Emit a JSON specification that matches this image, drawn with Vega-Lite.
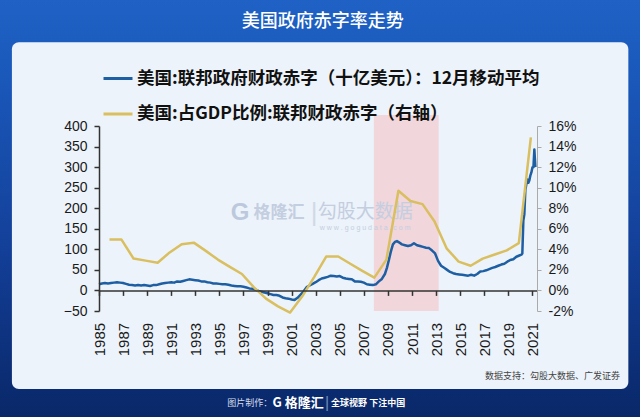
{
  "$schema": "https://vega.github.io/schema/vega-lite/v6.json",
  "width": 438,
  "height": 185,
  "autosize": {"type": "none"},
  "padding": {"left": 99, "top": 126, "right": 103, "bottom": 106},
  "background": "#0F3D8F",
  "config": {"view": {"stroke": null}, "font": "Liberation Sans", "axis": {"labelOverlap": false, "zindex": 1, "grid": false, "title": null}},
  "datasets": {
    "one": [{}],
    "blue": [
      {"d": "1985-01-01", "v": 15}, {"d": "1985-04-01", "v": 17}, {"d": "1985-07-01", "v": 18}, {"d": "1985-10-01", "v": 17},
      {"d": "1986-01-01", "v": 18}, {"d": "1986-04-01", "v": 19}, {"d": "1986-07-01", "v": 20}, {"d": "1986-10-01", "v": 19},
      {"d": "1987-01-01", "v": 18}, {"d": "1987-04-01", "v": 16}, {"d": "1987-07-01", "v": 14}, {"d": "1987-10-01", "v": 13},
      {"d": "1988-01-01", "v": 12}, {"d": "1988-04-01", "v": 13}, {"d": "1988-07-01", "v": 12}, {"d": "1988-10-01", "v": 13},
      {"d": "1989-01-01", "v": 12}, {"d": "1989-04-01", "v": 11}, {"d": "1989-07-01", "v": 13}, {"d": "1989-10-01", "v": 13},
      {"d": "1990-01-01", "v": 15}, {"d": "1990-04-01", "v": 17}, {"d": "1990-07-01", "v": 18}, {"d": "1990-10-01", "v": 19},
      {"d": "1991-01-01", "v": 20}, {"d": "1991-04-01", "v": 19}, {"d": "1991-07-01", "v": 22}, {"d": "1991-10-01", "v": 21},
      {"d": "1992-01-01", "v": 23}, {"d": "1992-04-01", "v": 25}, {"d": "1992-07-01", "v": 27}, {"d": "1992-10-01", "v": 26},
      {"d": "1993-01-01", "v": 25}, {"d": "1993-04-01", "v": 24}, {"d": "1993-07-01", "v": 22}, {"d": "1993-10-01", "v": 22},
      {"d": "1994-01-01", "v": 20}, {"d": "1994-04-01", "v": 19}, {"d": "1994-07-01", "v": 17}, {"d": "1994-10-01", "v": 17},
      {"d": "1995-01-01", "v": 16}, {"d": "1995-04-01", "v": 15}, {"d": "1995-07-01", "v": 15}, {"d": "1995-10-01", "v": 14},
      {"d": "1996-01-01", "v": 12}, {"d": "1996-04-01", "v": 11}, {"d": "1996-07-01", "v": 10}, {"d": "1996-10-01", "v": 10},
      {"d": "1997-01-01", "v": 9}, {"d": "1997-04-01", "v": 7}, {"d": "1997-07-01", "v": 5}, {"d": "1997-10-01", "v": 4},
      {"d": "1998-01-01", "v": 2}, {"d": "1998-04-01", "v": -1}, {"d": "1998-07-01", "v": -3}, {"d": "1998-10-01", "v": -5},
      {"d": "1999-01-01", "v": -7}, {"d": "1999-04-01", "v": -9}, {"d": "1999-07-01", "v": -11}, {"d": "1999-10-01", "v": -11},
      {"d": "2000-01-01", "v": -13}, {"d": "2000-04-01", "v": -17}, {"d": "2000-07-01", "v": -19}, {"d": "2000-10-01", "v": -20},
      {"d": "2001-01-01", "v": -22}, {"d": "2001-04-01", "v": -23}, {"d": "2001-07-01", "v": -18}, {"d": "2001-10-01", "v": -10},
      {"d": "2002-01-01", "v": -2}, {"d": "2002-04-01", "v": 8}, {"d": "2002-07-01", "v": 12}, {"d": "2002-10-01", "v": 16},
      {"d": "2003-01-01", "v": 20}, {"d": "2003-04-01", "v": 25}, {"d": "2003-07-01", "v": 29}, {"d": "2003-10-01", "v": 31},
      {"d": "2004-01-01", "v": 33}, {"d": "2004-04-01", "v": 36}, {"d": "2004-07-01", "v": 35}, {"d": "2004-10-01", "v": 34},
      {"d": "2005-01-01", "v": 35}, {"d": "2005-04-01", "v": 31}, {"d": "2005-07-01", "v": 29}, {"d": "2005-10-01", "v": 28},
      {"d": "2006-01-01", "v": 27}, {"d": "2006-04-01", "v": 22}, {"d": "2006-07-01", "v": 22}, {"d": "2006-10-01", "v": 21},
      {"d": "2007-01-01", "v": 19}, {"d": "2007-04-01", "v": 15}, {"d": "2007-07-01", "v": 14}, {"d": "2007-10-01", "v": 13},
      {"d": "2008-01-01", "v": 15}, {"d": "2008-04-01", "v": 22}, {"d": "2008-07-01", "v": 28}, {"d": "2008-10-01", "v": 40},
      {"d": "2008-12-01", "v": 55}, {"d": "2009-02-01", "v": 75}, {"d": "2009-04-01", "v": 95}, {"d": "2009-06-01", "v": 112},
      {"d": "2009-08-01", "v": 118}, {"d": "2009-10-01", "v": 120}, {"d": "2009-12-01", "v": 117}, {"d": "2010-03-01", "v": 112},
      {"d": "2010-06-01", "v": 110}, {"d": "2010-09-01", "v": 108}, {"d": "2010-12-01", "v": 110}, {"d": "2011-03-01", "v": 115},
      {"d": "2011-06-01", "v": 110}, {"d": "2011-09-01", "v": 108}, {"d": "2011-12-01", "v": 106}, {"d": "2012-03-01", "v": 104},
      {"d": "2012-06-01", "v": 103}, {"d": "2012-09-01", "v": 97}, {"d": "2012-12-01", "v": 90}, {"d": "2013-03-01", "v": 72},
      {"d": "2013-06-01", "v": 60}, {"d": "2013-09-01", "v": 55}, {"d": "2013-12-01", "v": 50}, {"d": "2014-03-01", "v": 45},
      {"d": "2014-06-01", "v": 42}, {"d": "2014-09-01", "v": 40}, {"d": "2014-12-01", "v": 39}, {"d": "2015-03-01", "v": 38},
      {"d": "2015-06-01", "v": 37}, {"d": "2015-09-01", "v": 36}, {"d": "2015-12-01", "v": 38}, {"d": "2016-03-01", "v": 36},
      {"d": "2016-06-01", "v": 40}, {"d": "2016-09-01", "v": 46}, {"d": "2016-12-01", "v": 47}, {"d": "2017-03-01", "v": 49},
      {"d": "2017-06-01", "v": 52}, {"d": "2017-09-01", "v": 55}, {"d": "2017-12-01", "v": 57}, {"d": "2018-03-01", "v": 60},
      {"d": "2018-06-01", "v": 63}, {"d": "2018-09-01", "v": 65}, {"d": "2018-12-01", "v": 70}, {"d": "2019-03-01", "v": 74},
      {"d": "2019-06-01", "v": 76}, {"d": "2019-09-01", "v": 82}, {"d": "2019-12-01", "v": 85}, {"d": "2020-02-01", "v": 87},
      {"d": "2020-03-01", "v": 90}, {"d": "2020-04-01", "v": 170}, {"d": "2020-05-01", "v": 185}, {"d": "2020-06-01", "v": 245},
      {"d": "2020-07-01", "v": 258}, {"d": "2020-08-01", "v": 270}, {"d": "2020-09-01", "v": 262}, {"d": "2020-10-01", "v": 268},
      {"d": "2020-11-01", "v": 280}, {"d": "2020-12-01", "v": 287}, {"d": "2021-01-01", "v": 299}, {"d": "2021-02-01", "v": 300},
      {"d": "2021-03-01", "v": 343}, {"d": "2021-04-01", "v": 300}
    ],
    "yellow": [
      {"d": "1985-11-15", "p": 4.95}, {"d": "1986-11-15", "p": 4.95}, {"d": "1987-11-15", "p": 3.1}, {"d": "1988-11-15", "p": 2.9},
      {"d": "1989-11-15", "p": 2.7}, {"d": "1990-11-15", "p": 3.7}, {"d": "1991-11-15", "p": 4.5}, {"d": "1992-11-15", "p": 4.65},
      {"d": "1993-11-15", "p": 3.85}, {"d": "1994-11-15", "p": 3.0}, {"d": "1995-11-15", "p": 2.3}, {"d": "1996-11-15", "p": 1.6},
      {"d": "1997-11-15", "p": 0.3}, {"d": "1998-11-15", "p": -0.8}, {"d": "1999-11-15", "p": -1.55}, {"d": "2000-11-15", "p": -2.15},
      {"d": "2001-11-15", "p": -0.6}, {"d": "2002-11-15", "p": 1.3}, {"d": "2003-11-15", "p": 3.3}, {"d": "2004-11-15", "p": 3.3},
      {"d": "2005-11-15", "p": 2.6}, {"d": "2006-11-15", "p": 1.9}, {"d": "2007-11-15", "p": 1.25}, {"d": "2008-11-15", "p": 3.0},
      {"d": "2009-11-15", "p": 9.7}, {"d": "2010-11-15", "p": 8.7}, {"d": "2011-11-15", "p": 8.4}, {"d": "2012-11-15", "p": 6.7},
      {"d": "2013-11-15", "p": 4.1}, {"d": "2014-11-15", "p": 2.8}, {"d": "2015-11-15", "p": 2.4}, {"d": "2016-11-15", "p": 3.1},
      {"d": "2017-11-15", "p": 3.5}, {"d": "2018-11-15", "p": 3.9}, {"d": "2019-11-15", "p": 4.6}, {"d": "2020-11-15", "p": 14.9}
    ]
  },
  "layer": [
    {
      "data": {"name": "one"},
      "layer": [
        {
          "mark": {"type": "rect", "fill": {"gradient": "linear", "x1": 0, "y1": 0, "x2": 0, "y2": 1, "stops": [
            {"offset": 0, "color": "#2062C6"}, {"offset": 0.15, "color": "#1B5BBE"}, {"offset": 0.6, "color": "#133F98"},
            {"offset": 0.9, "color": "#0B2C72"}, {"offset": 1, "color": "#0A2766"}]}},
          "encoding": {
            "x": {"datum": {"year": 1975, "month": 1, "date": 1}, "type": "temporal", "axis": null,
              "scale": {"domain": [{"year": 1985, "month": 1, "date": 1}, {"year": 2021, "month": 5, "date": 20}], "nice": false}},
            "x2": {"datum": {"year": 2032, "month": 1, "date": 1}},
            "y": {"datum": 730, "type": "quantitative", "axis": null, "scale": {"domain": [-50, 400], "nice": false, "zero": false}},
            "y2": {"datum": -330}
          }
        },
        {
          "mark": {"type": "rect", "fill": "#EDF3FA", "cornerRadius": 7},
          "encoding": {
            "x": {"datum": {"year": 1977, "month": 10, "date": 8}, "type": "temporal", "axis": null,
              "scale": {"domain": [{"year": 1985, "month": 1, "date": 1}, {"year": 2021, "month": 5, "date": 20}], "nice": false}},
            "x2": {"datum": {"year": 2028, "month": 12, "date": 20}},
            "y": {"datum": 604, "type": "quantitative", "axis": null, "scale": {"domain": [-50, 400], "nice": false, "zero": false}},
            "y2": {"datum": -240}
          }
        },
        {
          "mark": {"type": "rect", "fill": "#F1D6DC"},
          "encoding": {
            "x": {"datum": {"year": 2007, "month": 11, "date": 1}, "type": "temporal", "axis": null,
              "scale": {"domain": [{"year": 1985, "month": 1, "date": 1}, {"year": 2021, "month": 5, "date": 20}], "nice": false}},
            "x2": {"datum": {"year": 2013, "month": 3, "date": 20}},
            "y": {"datum": 427, "type": "quantitative", "axis": null, "scale": {"domain": [-50, 400], "nice": false, "zero": false}},
            "y2": {"datum": -50}
          }
        },
        {
          "mark": {"type": "text", "text": "G", "fontSize": 24, "fontWeight": "bold", "color": "#BCC9DD", "baseline": "middle", "align": "center"},
          "encoding": {
            "x": {"datum": {"year": 1996, "month": 9, "date": 20}, "type": "temporal", "axis": null,
              "scale": {"domain": [{"year": 1985, "month": 1, "date": 1}, {"year": 2021, "month": 5, "date": 20}], "nice": false}},
            "y": {"datum": 188, "type": "quantitative", "axis": null, "scale": {"domain": [-50, 400], "nice": false, "zero": false}}
          }
        },
        {
          "mark": {"type": "text", "text": "格隆汇", "font": "Noto Sans CJK SC", "fontSize": 17, "fontWeight": "bold", "color": "#C3CEE0", "baseline": "middle", "align": "center"},
          "encoding": {
            "x": {"datum": {"year": 1999, "month": 12, "date": 15}, "type": "temporal", "axis": null,
              "scale": {"domain": [{"year": 1985, "month": 1, "date": 1}, {"year": 2021, "month": 5, "date": 20}], "nice": false}},
            "y": {"datum": 188, "type": "quantitative", "axis": null, "scale": {"domain": [-50, 400], "nice": false, "zero": false}}
          }
        },
        {
          "mark": {"type": "text", "text": "|", "fontSize": 26, "color": "#D0D9E6", "baseline": "middle", "align": "center"},
          "encoding": {
            "x": {"datum": {"year": 2002, "month": 11, "date": 15}, "type": "temporal", "axis": null,
              "scale": {"domain": [{"year": 1985, "month": 1, "date": 1}, {"year": 2021, "month": 5, "date": 20}], "nice": false}},
            "y": {"datum": 188, "type": "quantitative", "axis": null, "scale": {"domain": [-50, 400], "nice": false, "zero": false}}
          }
        },
        {
          "mark": {"type": "text", "text": "勾股大数据", "font": "Noto Sans CJK SC", "fontSize": 19, "color": "#C3CEE0", "baseline": "middle", "align": "center"},
          "encoding": {
            "x": {"datum": {"year": 2007, "month": 2, "date": 10}, "type": "temporal", "axis": null,
              "scale": {"domain": [{"year": 1985, "month": 1, "date": 1}, {"year": 2021, "month": 5, "date": 20}], "nice": false}},
            "y": {"datum": 190, "type": "quantitative", "axis": null, "scale": {"domain": [-50, 400], "nice": false, "zero": false}}
          }
        },
        {
          "mark": {"type": "text", "text": "w w w . g o g u d a t a . c o m", "fontSize": 7, "color": "#C3CEE0", "baseline": "middle", "align": "center"},
          "encoding": {
            "x": {"datum": {"year": 2007, "month": 2, "date": 10}, "type": "temporal", "axis": null,
              "scale": {"domain": [{"year": 1985, "month": 1, "date": 1}, {"year": 2021, "month": 5, "date": 20}], "nice": false}},
            "y": {"datum": 152, "type": "quantitative", "axis": null, "scale": {"domain": [-50, 400], "nice": false, "zero": false}}
          }
        },
        {
          "mark": {"type": "text", "text": "美国政府赤字率走势", "font": "Noto Sans CJK SC", "fontSize": 18, "fontWeight": 500, "color": "#FFFFFF", "baseline": "middle", "align": "center"},
          "encoding": {
            "x": {"datum": {"year": 2003, "month": 8, "date": 1}, "type": "temporal", "axis": null,
              "scale": {"domain": [{"year": 1985, "month": 1, "date": 1}, {"year": 2021, "month": 5, "date": 20}], "nice": false}},
            "y": {"datum": 653, "type": "quantitative", "axis": null, "scale": {"domain": [-50, 400], "nice": false, "zero": false}}
          }
        },
        {
          "mark": {"type": "text", "text": "数据支持：勾股大数据、广发证券", "font": "Noto Sans CJK SC", "fontSize": 9, "color": "#444444", "baseline": "middle", "align": "right"},
          "encoding": {
            "x": {"datum": {"year": 2028, "month": 4, "date": 10}, "type": "temporal", "axis": null,
              "scale": {"domain": [{"year": 1985, "month": 1, "date": 1}, {"year": 2021, "month": 5, "date": 20}], "nice": false}},
            "y": {"datum": -208, "type": "quantitative", "axis": null, "scale": {"domain": [-50, 400], "nice": false, "zero": false}}
          }
        },
        {
          "mark": {"type": "text", "text": "图片制作：", "font": "Noto Sans CJK SC", "fontSize": 9, "color": "#D5DDED", "baseline": "middle", "align": "center"},
          "encoding": {
            "x": {"datum": {"year": 1997, "month": 7, "date": 10}, "type": "temporal", "axis": null,
              "scale": {"domain": [{"year": 1985, "month": 1, "date": 1}, {"year": 2021, "month": 5, "date": 20}], "nice": false}},
            "y": {"datum": -274, "type": "quantitative", "axis": null, "scale": {"domain": [-50, 400], "nice": false, "zero": false}}
          }
        },
        {
          "mark": {"type": "text", "text": "G 格隆汇", "font": "Noto Sans CJK SC", "fontSize": 13, "fontWeight": "bold", "color": "#FFFFFF", "baseline": "middle", "align": "center"},
          "encoding": {
            "x": {"datum": {"year": 2001, "month": 7, "date": 15}, "type": "temporal", "axis": null,
              "scale": {"domain": [{"year": 1985, "month": 1, "date": 1}, {"year": 2021, "month": 5, "date": 20}], "nice": false}},
            "y": {"datum": -274, "type": "quantitative", "axis": null, "scale": {"domain": [-50, 400], "nice": false, "zero": false}}
          }
        },
        {
          "mark": {"type": "text", "text": "|", "fontSize": 16, "color": "#6F88B8", "baseline": "middle", "align": "center"},
          "encoding": {
            "x": {"datum": {"year": 2003, "month": 12, "date": 15}, "type": "temporal", "axis": null,
              "scale": {"domain": [{"year": 1985, "month": 1, "date": 1}, {"year": 2021, "month": 5, "date": 20}], "nice": false}},
            "y": {"datum": -274, "type": "quantitative", "axis": null, "scale": {"domain": [-50, 400], "nice": false, "zero": false}}
          }
        },
        {
          "mark": {"type": "text", "text": "全球视野 下注中国", "font": "Noto Sans CJK SC", "fontSize": 9, "fontWeight": "bold", "color": "#FFFFFF", "baseline": "middle", "align": "center"},
          "encoding": {
            "x": {"datum": {"year": 2007, "month": 5, "date": 10}, "type": "temporal", "axis": null,
              "scale": {"domain": [{"year": 1985, "month": 1, "date": 1}, {"year": 2021, "month": 5, "date": 20}], "nice": false}},
            "y": {"datum": -274, "type": "quantitative", "axis": null, "scale": {"domain": [-50, 400], "nice": false, "zero": false}}
          }
        }
      ]
    },
    {
      "data": {"name": "blue"},
      "mark": {"type": "line", "strokeWidth": 2.5, "strokeJoin": "round"},
      "encoding": {
        "x": {
          "field": "d", "type": "temporal",
          "scale": {"domain": [{"year": 1985, "month": 1, "date": 1}, {"year": 2021, "month": 5, "date": 20}], "nice": false},
          "axis": {
            "title": null, "zindex": 1, "offset": -20.6, "format": "%Y", "labelAngle": -90, "labelFontSize": 15, "labelColor": "#1A1A1A",
            "labelPadding": 27, "labelFlush": false, "labelOverlap": false, "grid": false,
            "domainColor": "#333333", "domainWidth": 1.5, "tickColor": "#333333", "tickWidth": 1.5, "tickSize": 5,
            "values": [{"year": 1985}, {"year": 1987}, {"year": 1989}, {"year": 1991}, {"year": 1993}, {"year": 1995}, {"year": 1997},
              {"year": 1999}, {"year": 2001}, {"year": 2003}, {"year": 2005}, {"year": 2007}, {"year": 2009}, {"year": 2011},
              {"year": 2013}, {"year": 2015}, {"year": 2017}, {"year": 2019}, {"year": 2021}]
          }
        },
        "y": {
          "field": "v", "type": "quantitative",
          "scale": {"domain": [-50, 400], "nice": false, "zero": false},
          "axis": {
            "orient": "left", "title": null, "zindex": 1, "values": [-50, 0, 50, 100, 150, 200, 250, 300, 350, 400], "grid": false,
            "labelFontSize": 14, "labelColor": "#1A1A1A", "labelPadding": 7, "labelOverlap": false,
            "domainColor": "#333333", "domainWidth": 1.5, "tickColor": "#333333", "tickWidth": 1.5, "tickSize": 5
          }
        },
        "color": {
          "datum": "美国:联邦政府财政赤字（十亿美元）：12月移动平均",
          "scale": {"domain": ["美国:联邦政府财政赤字（十亿美元）：12月移动平均", "美国:占GDP比例:联邦财政赤字（右轴）"], "range": ["#1E5FA3", "#D9BF5F"]},
          "legend": {
            "orient": "none", "legendX": 3, "legendY": -63.5, "direction": "vertical", "title": null,
            "symbolType": "stroke", "symbolSize": 841, "symbolStrokeWidth": 3,
            "labelFont": "Noto Sans CJK SC", "labelFontSize": 17.5, "labelFontWeight": "bold", "labelColor": "#111111",
            "labelLimit": 600, "rowPadding": 10.5, "labelOffset": 3, "padding": 0
          }
        }
      }
    },
    {
      "data": {"name": "yellow"},
      "mark": {"type": "line", "strokeWidth": 2.5, "strokeJoin": "round"},
      "encoding": {
        "x": {
          "field": "d", "type": "temporal",
          "scale": {"domain": [{"year": 1985, "month": 1, "date": 1}, {"year": 2021, "month": 5, "date": 20}], "nice": false},
          "axis": null
        },
        "y": {
          "field": "p", "type": "quantitative",
          "scale": {"domain": [-2, 16], "nice": false, "zero": false},
          "axis": {
            "orient": "right", "title": null, "zindex": 1, "values": [-2, 0, 2, 4, 6, 8, 10, 12, 14, 16], "grid": false,
            "labelExpr": "datum.value + '%'", "labelFontSize": 14, "labelColor": "#1A1A1A", "labelPadding": 7, "labelOverlap": false,
            "domainColor": "#AAAAAA", "domainWidth": 1, "tickColor": "#AAAAAA", "tickWidth": 1, "tickSize": 4
          }
        },
        "color": {
          "datum": "美国:占GDP比例:联邦财政赤字（右轴）",
          "scale": {"domain": ["美国:联邦政府财政赤字（十亿美元）：12月移动平均", "美国:占GDP比例:联邦财政赤字（右轴）"], "range": ["#1E5FA3", "#D9BF5F"]}
        }
      }
    }
  ],
  "resolve": {"scale": {"x": "independent", "y": "independent"}, "axis": {"x": "independent", "y": "independent"}}
}
